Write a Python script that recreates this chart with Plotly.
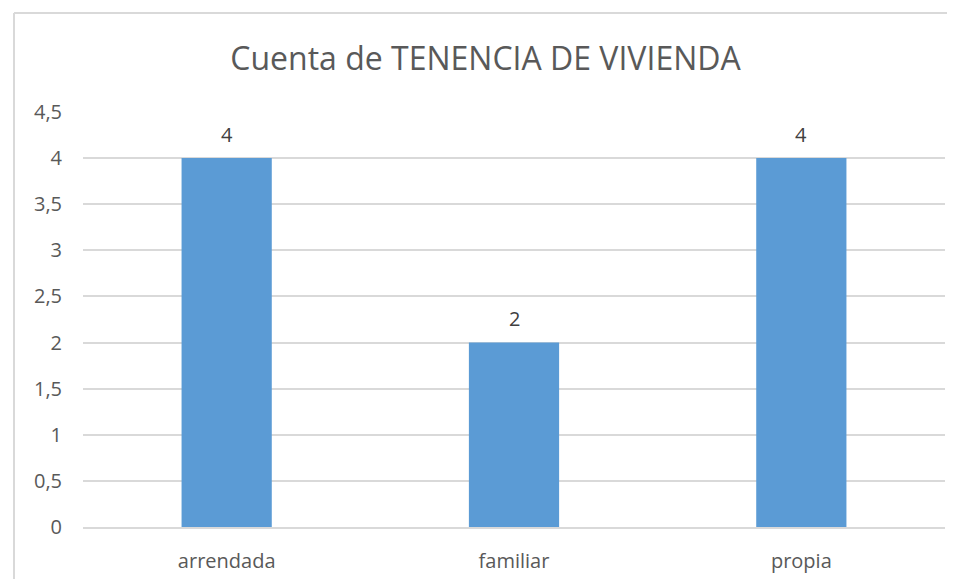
import plotly.graph_objects as go

# data
categorias = ['arrendada', 'familiar', 'propia']
cuenta = [4, 2, 4]
y_ticks = [0, 0.5, 1, 1.5, 2, 2.5, 3, 3.5, 4, 4.5]

W, H = 955, 579
L, R, T, B = 75, 18, 104, 60
pw, ph = W - L - R, H - T - B

fig = go.Figure()
fig.add_trace(go.Bar(
    x=categorias,
    y=cuenta,
    marker_color='#5B9BD5',
    marker_line_width=0,
    hoverinfo='x+y'
))

# data labels above the bars
for c, v in zip(categorias, cuenta):
    fig.add_annotation(x=c, y=v, text=str(v), showarrow=False,
                       yanchor='middle', yshift=24,
                       font=dict(family='Open Sans', size=20, color='#404040'))

# chart border (top and left visible)
def px_x(p):
    return (p - L) / pw

def px_y(p):
    return (H - B - p) / ph

fig.add_shape(type='line', xref='paper', yref='paper',
              x0=px_x(6), x1=px_x(W + 5), y0=px_y(5), y1=px_y(5),
              line=dict(color='#D9D9D9', width=2))
fig.add_shape(type='line', xref='paper', yref='paper',
              x0=px_x(6), x1=px_x(6), y0=px_y(5), y1=px_y(H + 5),
              line=dict(color='#D9D9D9', width=2))

fig.update_layout(
    width=W, height=H,
    margin=dict(l=L, r=R, t=T, b=B),
    paper_bgcolor='white',
    plot_bgcolor='white',
    separators=',.',
    bargap=0.686,
    showlegend=False,
    title=dict(text='Cuenta de TENENCIA DE VIVIENDA', x=0.5, xanchor='center',
               y=1 - 51 / H, yanchor='middle',
               font=dict(family='Open Sans', size=32, color='#595959')),
    font=dict(family='Open Sans', size=20, color='#595959'),
)
fig.update_yaxes(range=[0, 4.5], tickvals=y_ticks, showgrid=True,
                 gridcolor='#D9D9D9', gridwidth=1.5, zeroline=False,
                 showline=False, ticks='', ticklabelstandoff=20,
                 tickfont=dict(size=20, color='#595959'))
fig.update_xaxes(showline=True, linecolor='#D9D9D9', linewidth=1.5,
                 ticks='', ticklabelstandoff=15,
                 tickfont=dict(size=20, color='#595959'))

fig.write_html('out.html')
